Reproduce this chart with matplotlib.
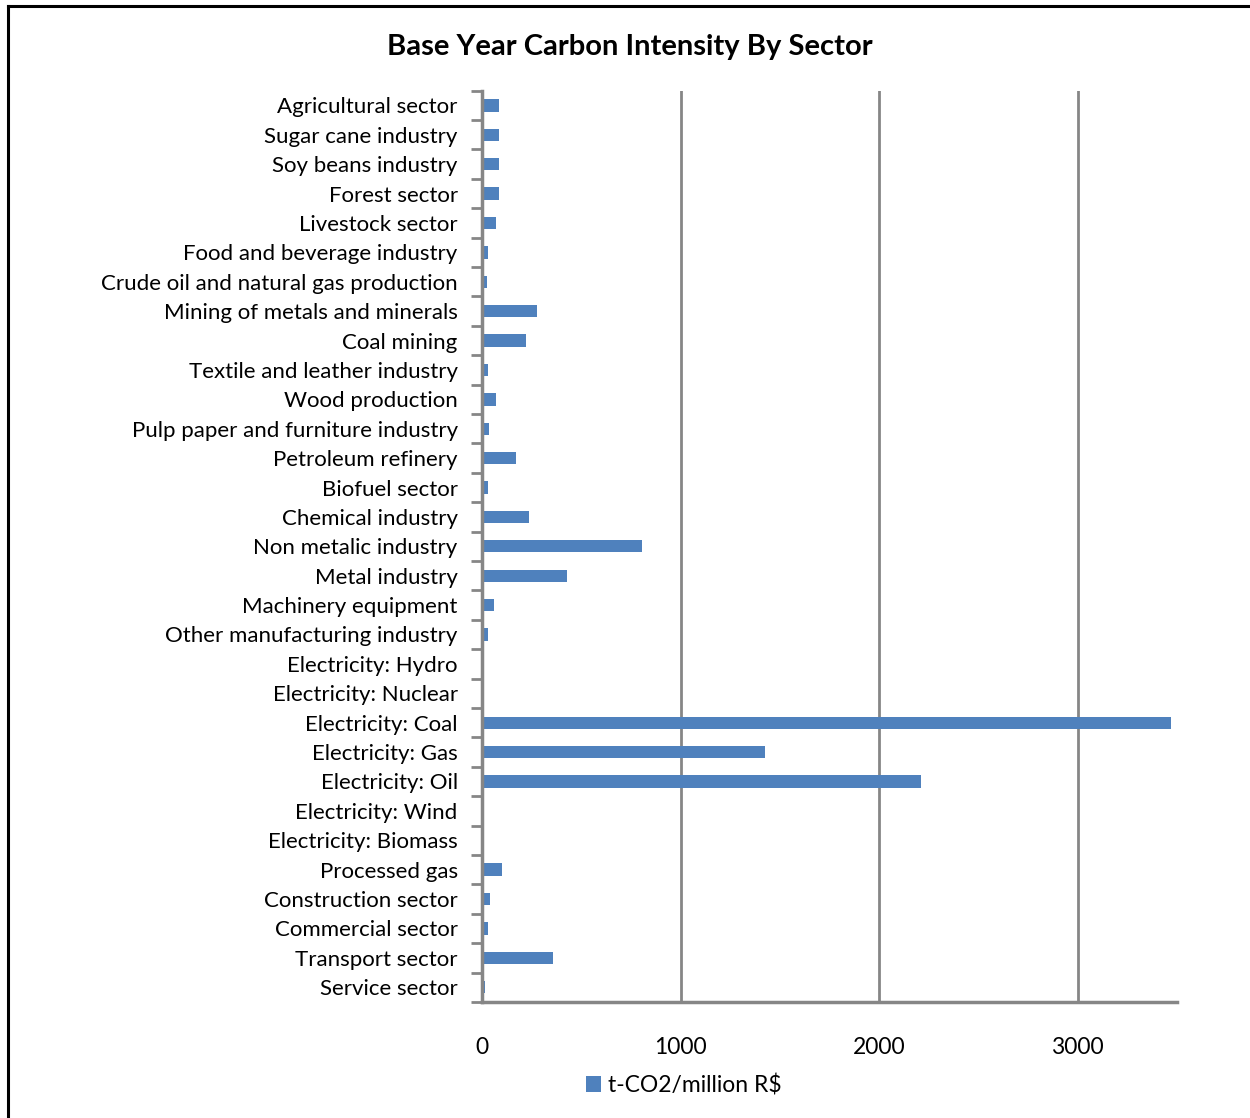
import numpy as np
import matplotlib.pyplot as plt
from matplotlib.lines import Line2D

sectors = ['Agricultural sector', 'Sugar cane industry', 'Soy beans industry', 'Forest sector',
           'Livestock sector', 'Food and beverage industry', 'Crude oil and natural gas production',
           'Mining of metals and minerals', 'Coal mining', 'Textile and leather industry',
           'Wood production', 'Pulp paper and furniture industry', 'Petroleum refinery',
           'Biofuel sector', 'Chemical industry', 'Non metalic industry', 'Metal industry',
           'Machinery equipment', 'Other manufacturing industry', 'Electricity: Hydro',
           'Electricity: Nuclear', 'Electricity: Coal', 'Electricity: Gas', 'Electricity: Oil',
           'Electricity: Wind', 'Electricity: Biomass', 'Processed gas', 'Construction sector',
           'Commercial sector', 'Transport sector', 'Service sector']
intensity = [86, 86, 86, 86, 70, 29, 27, 275, 220, 29, 69, 34, 171, 29, 235, 804, 426, 62, 32,
             0, 0, 3471, 1424, 2209, 0, 0, 102, 39, 30, 357, 15]
xticks = [0, 1000, 2000, 3000]

blue = '#4F81BD'
grey = '#868686'
plt.rcParams['font.family'] = ['Lato', 'DejaVu Sans']

fig = plt.figure(figsize=(12.5, 11.18), dpi=100)
ax = fig.add_axes([0.3856, 0.1038, 0.556, 0.8151])

y = np.arange(len(sectors))
ax.barh(y, intensity, height=0.42, color=blue, label='t-CO2/million R$', zorder=3)
ax.set_ylim(len(sectors) - 0.5, -0.5)
ax.set_xlim(0, 3500)

ax.set_yticks(y)
ax.set_yticklabels(sectors, fontsize=16)
ax.set_yticks(np.arange(len(sectors) + 1) - 0.5, minor=True)
ax.tick_params(axis='y', which='major', length=0, pad=17.5)
ax.tick_params(axis='y', which='minor', length=8, width=2, color=grey, direction='out')

ax.set_xticks(xticks)
ax.set_xticklabels([str(t) for t in xticks], fontsize=16.5)
ax.set_xticks([0], minor=True)
ax.tick_params(axis='x', which='major', length=0, pad=25)
ax.tick_params(axis='x', which='minor', length=8, width=2, color=grey, direction='out')

ax.grid(axis='x', color=grey, linewidth=2, zorder=0)
for s in ['top', 'right']:
    ax.spines[s].set_visible(False)
for s in ['left', 'bottom']:
    ax.spines[s].set_color(grey)
    ax.spines[s].set_linewidth(2.5)
ax.spines['left'].set_zorder(4)

fig.text(0.504, 0.958, 'Base Year Carbon Intensity By Sector', ha='center', va='center',
         fontsize=21, fontweight='bold')
fig.legend(loc='center', bbox_to_anchor=(0.547, 0.0295), frameon=False, fontsize=16.5,
           handlelength=0.65, handleheight=0.65, handletextpad=0.3)

# outer frame (left and top edges only visible)
fig.add_artist(Line2D([7.5 / 1250, 7.5 / 1250], [0, 1 - 5.5 / 1118], color='black', linewidth=2.2))
fig.add_artist(Line2D([7.5 / 1250, 1], [1 - 5.5 / 1118, 1 - 5.5 / 1118], color='black', linewidth=2.2))

fig.savefig('out.png', dpi=100, facecolor='white')
